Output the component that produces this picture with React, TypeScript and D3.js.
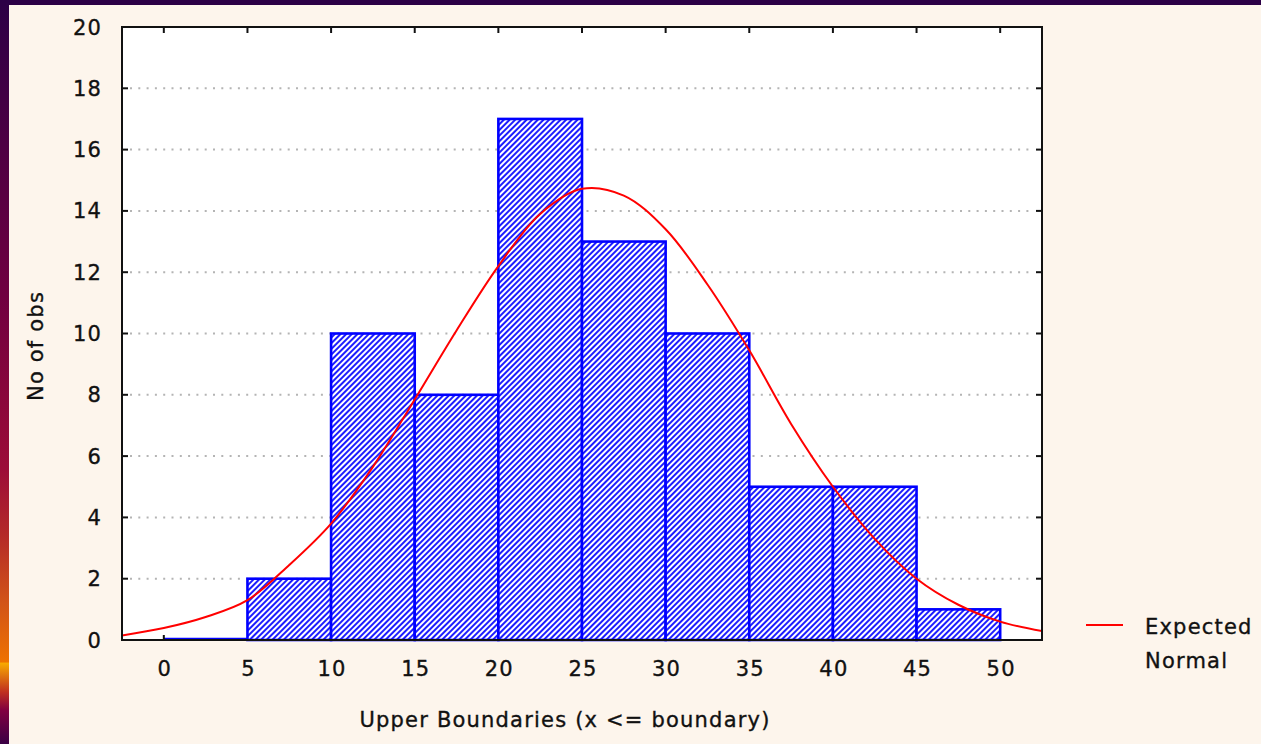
import * as d3 from "d3";

const WIDTH = 1261;
const HEIGHT = 744;

// histogram bins (upper boundaries) and counts
const BIN_STARTS = [0, 5, 10, 15, 20, 25, 30, 35, 40, 45];
const BIN_WIDTH = 5;
const COUNTS = [0, 2, 10, 8, 17, 13, 10, 5, 5, 1];

const X_TICKS = [0, 5, 10, 15, 20, 25, 30, 35, 40, 45, 50];
const Y_TICKS = [0, 2, 4, 6, 8, 10, 12, 14, 16, 18, 20];
const GRID_TICKS = [2, 4, 6, 8, 10, 12, 14, 16, 18];

// expected normal curve
const CURVE_X = [-2.5, 0, 2.5, 5, 7.5, 10, 12.5, 15, 17.5, 20, 22.5, 25, 27.5, 30, 32.5, 35, 37.5, 40, 42.5, 45, 47.5, 50, 52.5];
const CURVE_Y = [0.15, 0.39, 0.75, 1.3, 2.45, 3.8, 5.65, 7.85, 10.1, 12.2, 13.9, 14.72, 14.5, 13.4, 11.6, 9.45, 7.05, 5.0, 3.3, 2.0, 1.15, 0.6, 0.29];

const FONT = "'DejaVu Sans', sans-serif";

export default function App() {
  const left = 122;
  const right = 1042;
  const top = 27;
  const bottom = 640;

  const x = d3.scaleLinear().domain([-2.5, 52.5]).range([left, right]);
  const y = d3.scaleLinear().domain([0, 20]).range([bottom, top]);

  const curvePts = CURVE_X.map((cx, i) => [cx, CURVE_Y[i]] as [number, number]);
  const line = d3
    .line<[number, number]>()
    .x((d) => x(d[0]))
    .y((d) => y(d[1]))
    .curve(d3.curveCatmullRom.alpha(0.5));

  const textStyle = {
    fontFamily: FONT,
    fontSize: 21,
    letterSpacing: 1.2,
    fill: "#111",
    stroke: "#111",
    strokeWidth: 0.35,
  };

  return (
    <div style={{ position: "fixed", left: 0, top: 0 }}>
      <svg width={WIDTH} height={HEIGHT} style={{ display: "block" }}>
        <defs>
          <linearGradient id="frameGrad" x1="0" y1="0" x2="0" y2="1">
            <stop offset="0" stopColor="#2c0046" />
            <stop offset="0.4" stopColor="#700040" />
            <stop offset="0.63" stopColor="#9c0c38" />
            <stop offset="0.72" stopColor="#b42a28" />
            <stop offset="0.81" stopColor="#d25418" />
            <stop offset="0.89" stopColor="#ee7200" />
            <stop offset="0.891" stopColor="#f8aa00" />
            <stop offset="0.93" stopColor="#c03020" />
            <stop offset="0.955" stopColor="#800040" />
            <stop offset="1" stopColor="#3a0044" />
          </linearGradient>
          <pattern
            id="hatch"
            patternUnits="userSpaceOnUse"
            width={4}
            height={4}
            patternTransform="rotate(45)"
          >
            <rect width={4} height={4} fill="#ffffff" />
            <line x1={1} y1={0} x2={1} y2={4} stroke="#1010ff" strokeWidth={1.9} />
          </pattern>
          <clipPath id="plotClip">
            <rect x={left} y={top} width={right - left} height={bottom - top} />
          </clipPath>
        </defs>

        {/* background + frame */}
        <rect x={0} y={0} width={WIDTH} height={HEIGHT} fill="#fdf5ec" />
        <rect x={0} y={0} width={WIDTH} height={5} fill="#2c0046" />
        <rect x={0} y={0} width={9} height={HEIGHT} fill="url(#frameGrad)" />

        {/* plot area */}
        <rect x={left} y={top} width={right - left} height={bottom - top} fill="#ffffff" />

        {/* grid */}
        {GRID_TICKS.map((t) => (
          <line
            key={"g" + t}
            x1={left + 8}
            x2={right - 8}
            y1={y(t)}
            y2={y(t)}
            stroke="#b4b4b4"
            strokeWidth={2}
            strokeDasharray="2 6.3"
          />
        ))}

        {/* bars */}
        {BIN_STARTS.map((b, i) =>
          COUNTS[i] > 0 ? (
            <rect
              key={"b" + b}
              x={x(b)}
              y={y(COUNTS[i])}
              width={x(b + BIN_WIDTH) - x(b)}
              height={y(0) - y(COUNTS[i])}
              fill="url(#hatch)"
              stroke="#0000ff"
              strokeWidth={2.6}
            />
          ) : (
            <line
              key={"b" + b}
              x1={x(b)}
              x2={x(b + BIN_WIDTH)}
              y1={y(0) - 1}
              y2={y(0) - 1}
              stroke="#0000ff"
              strokeWidth={2.6}
            />
          )
        )}

        {/* expected normal */}
        <g clipPath="url(#plotClip)">
          <path d={line(curvePts) || ""} fill="none" stroke="#ff0000" strokeWidth={2} />
        </g>

        {/* frame */}
        <rect
          x={left}
          y={top}
          width={right - left}
          height={bottom - top}
          fill="none"
          stroke="#111"
          strokeWidth={2}
        />

        {/* y ticks */}
        {Y_TICKS.map((t) => (
          <g key={"y" + t}>
            <line x1={left} x2={left + 6} y1={y(t)} y2={y(t)} stroke="#111" strokeWidth={2} />
            <line x1={right - 6} x2={right} y1={y(t)} y2={y(t)} stroke="#111" strokeWidth={2} />
            <text x={left - 20} y={y(t)} dy="0.36em" textAnchor="end" style={textStyle}>
              {t}
            </text>
          </g>
        ))}

        {/* x ticks */}
        {X_TICKS.map((t) => (
          <g key={"x" + t}>
            <line x1={x(t)} x2={x(t)} y1={top} y2={top + 6} stroke="#111" strokeWidth={2} />
            <text x={x(t) + 1} y={bottom + 36} textAnchor="middle" style={textStyle}>
              {t}
            </text>
          </g>
        ))}
        <line x1={x(0)} x2={x(0)} y1={bottom - 5} y2={bottom} stroke="#111" strokeWidth={2} />

        {/* axis titles */}
        <text x={565} y={727} textAnchor="middle" style={textStyle}>
          Upper Boundaries (x &lt;= boundary)
        </text>
        <text
          transform={`translate(43,346) rotate(-90)`}
          textAnchor="middle"
          style={textStyle}
        >
          No of obs
        </text>

        {/* legend */}
        <line x1={1086} x2={1123} y1={625} y2={625} stroke="#ff0000" strokeWidth={2} />
        <text x={1145} y={634} style={textStyle}>
          Expected
        </text>
        <text x={1145} y={668} style={textStyle}>
          Normal
        </text>
      </svg>
    </div>
  );
}
